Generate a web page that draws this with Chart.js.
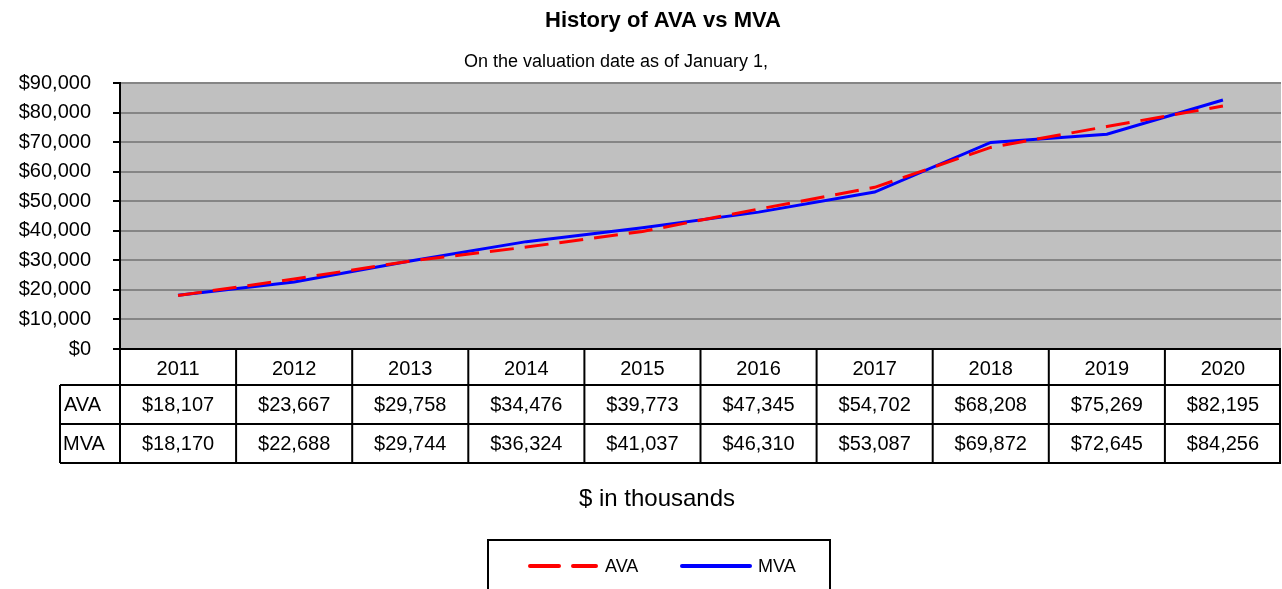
<!DOCTYPE html>
<html>
<head>
<meta charset="utf-8">
<script src="https://cdn.jsdelivr.net/npm/chart.js@4/dist/chart.umd.min.js"></script>
<style>
  body { margin: 0; background: #fff; }
  canvas { display: block; }
</style>
</head>
<body>
<canvas id="avaChart" width="1282" height="589"></canvas>
<script>
const years = ['2011', '2012', '2013', '2014', '2015', '2016', '2017', '2018', '2019', '2020'];
const avaValues = [18107, 23667, 29758, 34476, 39773, 47345, 54702, 68208, 75269, 82195];
const mvaValues = [18170, 22688, 29744, 36324, 41037, 46310, 53087, 69872, 72645, 84256];

const FONT = '"Liberation Sans", Arial, sans-serif';
const money = v => '$' + v.toLocaleString('en-US');

// draws titles, the data table under the plot, the axis caption and the boxed legend
const tablePlugin = {
  id: 'tablePlugin',
  afterDraw(chart) {
    const ctx = chart.ctx;
    const area = chart.chartArea;
    const x = chart.scales.x;
    const colW = (area.right - area.left) / years.length;
    const top = area.bottom;
    const rowY = [top, 385, 424, 463];

    ctx.save();
    ctx.fillStyle = '#000';
    ctx.textAlign = 'center';
    ctx.textBaseline = 'middle';

    // titles
    ctx.font = 'bold 22px ' + FONT;
    ctx.fillText('History of AVA vs MVA', 663, 21);
    ctx.font = '18px ' + FONT;
    ctx.fillText('On the valuation date as of January 1,', 616, 62);

    // table grid
    ctx.strokeStyle = '#000';
    ctx.lineWidth = 2;
    ctx.beginPath();
    ctx.moveTo(area.left, rowY[0]); ctx.lineTo(area.right, rowY[0]);
    for (let r = 1; r < rowY.length; r++) {
      ctx.moveTo(60, rowY[r]); ctx.lineTo(area.right, rowY[r]);
    }
    ctx.moveTo(60, rowY[1]); ctx.lineTo(60, rowY[3]);
    for (let i = 0; i <= years.length; i++) {
      const cx = Math.min(area.left + i * colW, area.right - 1);
      ctx.moveTo(cx, rowY[0]); ctx.lineTo(cx, rowY[3]);
    }
    ctx.stroke();

    // table text
    ctx.font = '20px ' + FONT;
    years.forEach((yr, i) => {
      const cx = x.getPixelForValue(i);
      ctx.fillText(yr, cx, (rowY[0] + rowY[1]) / 2 + 2);
      ctx.fillText(money(avaValues[i]), cx, (rowY[1] + rowY[2]) / 2 + 1);
      ctx.fillText(money(mvaValues[i]), cx, (rowY[2] + rowY[3]) / 2 + 1);
    });
    ctx.textAlign = 'left';
    ctx.fillText('AVA', 64, (rowY[1] + rowY[2]) / 2 + 1);
    ctx.fillText('MVA', 63, (rowY[2] + rowY[3]) / 2 + 1);

    // axis caption
    ctx.textAlign = 'center';
    ctx.font = '24px ' + FONT;
    ctx.fillText('$ in thousands', 657, 499);

    // legend
    ctx.lineWidth = 2;
    ctx.strokeRect(488, 540, 342, 60);
    ctx.lineCap = 'round';
    ctx.lineWidth = 4;
    ctx.strokeStyle = '#FF0000';
    ctx.beginPath();
    ctx.moveTo(530, 566); ctx.lineTo(559, 566);
    ctx.moveTo(573, 566); ctx.lineTo(596, 566);
    ctx.stroke();
    ctx.strokeStyle = '#0000FF';
    ctx.beginPath();
    ctx.moveTo(682, 566); ctx.lineTo(750, 566);
    ctx.stroke();
    ctx.textAlign = 'left';
    ctx.font = '18px ' + FONT;
    ctx.fillText('AVA', 605, 567);
    ctx.fillText('MVA', 758, 567);
    ctx.restore();
  }
};

// gray plot background
const plotBg = {
  id: 'plotBg',
  beforeDraw(chart) {
    const { ctx, chartArea: a } = chart;
    ctx.save();
    ctx.fillStyle = '#C0C0C0';
    ctx.fillRect(a.left, a.top, a.right - a.left, a.bottom - a.top);
    ctx.restore();
  }
};

new Chart(document.getElementById('avaChart').getContext('2d'), {
  type: 'line',
  data: {
    labels: years,
    datasets: [
      {
        label: 'AVA',
        data: avaValues,
        borderColor: '#FF0000',
        borderWidth: 3,
        borderDash: [24, 11],
        pointRadius: 0,
        tension: 0
      },
      {
        label: 'MVA',
        data: mvaValues,
        borderColor: '#0000FF',
        borderWidth: 3,
        pointRadius: 0,
        tension: 0
      }
    ]
  },
  options: {
    responsive: false,
    animation: false,
    layout: { padding: { top: 83, bottom: 240, right: 1, left: 0 } },
    plugins: {
      legend: { display: false },
      title: { display: false },
      tooltip: { enabled: false }
    },
    scales: {
      x: {
        offset: true,
        grid: { display: false, drawTicks: false },
        border: { display: false },
        ticks: { display: false }
      },
      y: {
        min: 0,
        max: 90000,
        afterFit(scale) { scale.width = 120; },
        ticks: {
          stepSize: 10000,
          padding: 22,
          color: '#000',
          font: { family: FONT, size: 20 },
          callback: v => money(v)
        },
        grid: { color: '#858585', lineWidth: 2, tickLength: 7, tickColor: '#000' },
        border: { color: '#000', width: 2 }
      }
    }
  },
  plugins: [plotBg, tablePlugin]
});
</script>
</body>
</html>
